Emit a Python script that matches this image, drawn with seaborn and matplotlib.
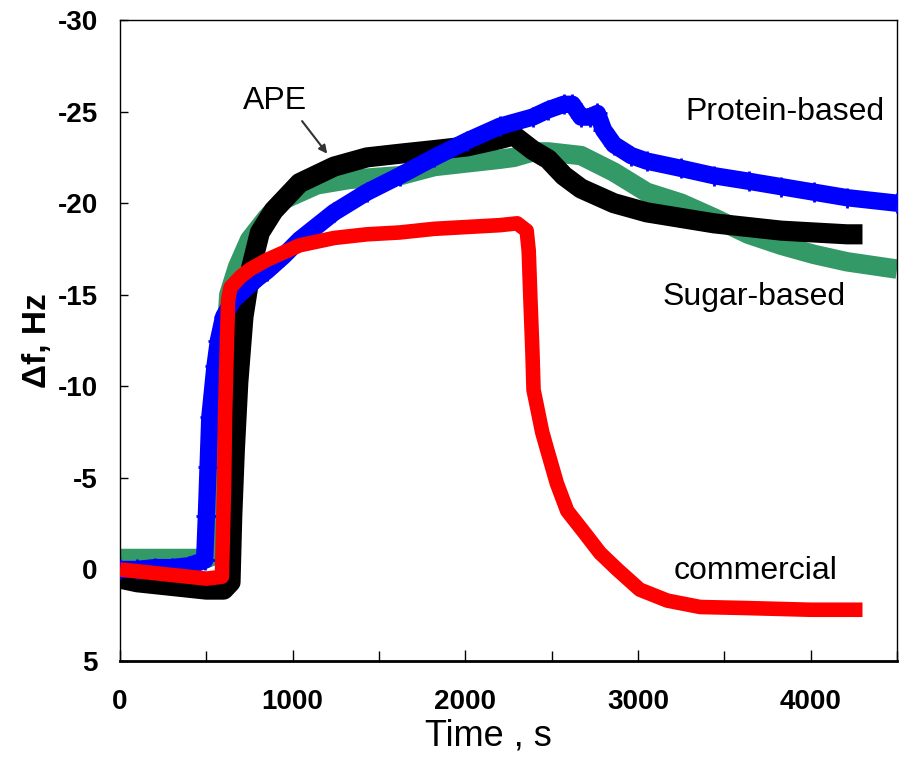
import numpy as np
import pandas as pd
import matplotlib
matplotlib.use("Agg")
import matplotlib.pyplot as plt
from matplotlib.ticker import MultipleLocator
import seaborn as sns

# values (time in s, frequency shift in Hz)
ape_t = [0, 100, 200, 300, 400, 500, 600, 640, 650, 665, 685, 715, 740, 760, 810, 890,
         1040, 1240, 1430, 1620, 1820, 2010, 2200, 2280, 2390, 2480, 2570, 2670, 2860,
         3050, 3440, 3830, 4210, 4300]
ape_f = [0.5, 0.7, 0.8, 0.9, 1.0, 1.1, 1.1, 0.7, -2.9, -6.5, -10.2, -13.8, -15.3, -16.5,
         -18.4, -19.6, -21.1, -22.0, -22.5, -22.7, -22.9, -23.1, -23.5, -23.7, -22.9,
         -22.4, -21.5, -20.8, -20.0, -19.5, -18.9, -18.5, -18.3, -18.3]

sugar_t = [0, 100, 200, 300, 400, 500, 555, 570, 590, 610, 630, 680, 750, 850, 950, 1140,
           1330, 1620, 1820, 2010, 2200, 2280, 2390, 2480, 2670, 2860, 3050, 3250, 3440,
           3640, 3830, 4020, 4210, 4500]
sugar_f = [-0.6, -0.6, -0.6, -0.6, -0.6, -0.6, -0.8, -4.7, -8.3, -12.0, -15.0, -16.5,
           -18.0, -19.2, -20.2, -21.0, -21.3, -21.5, -22.0, -22.2, -22.4, -22.5, -22.8,
           -22.8, -22.6, -21.7, -20.6, -20.0, -19.2, -18.3, -17.7, -17.2, -16.8, -16.4]

protein_t = [0, 100, 200, 300, 400, 490, 500, 510, 520, 550, 570, 600, 655, 735, 795, 850,
             945, 1040, 1240, 1430, 1620, 1820, 2010, 2200, 2390, 2480, 2570, 2620, 2670,
             2720, 2765, 2800, 2860, 2960, 3050, 3250, 3440, 3640, 3830, 4020, 4210, 4500]
protein_f = [0.0, 0.0, -0.1, -0.1, -0.2, -0.5, -2.9, -5.6, -8.3, -11.1, -12.5, -13.8,
             -14.7, -15.4, -15.9, -16.3, -17.1, -18.0, -19.5, -20.6, -21.5, -22.5, -23.4,
             -24.2, -24.7, -25.1, -25.4, -25.4, -24.7, -24.7, -24.9, -24.0, -23.2, -22.6,
             -22.3, -21.9, -21.5, -21.2, -20.9, -20.6, -20.3, -20.0]

comm_t = [0, 100, 200, 300, 400, 500, 590, 603, 608, 618, 626, 640, 700, 755, 850, 1040,
          1240, 1430, 1620, 1820, 2010, 2200, 2300, 2355, 2367, 2377, 2388, 2395, 2406,
          2445, 2475, 2530, 2590, 2690, 2780, 2880, 3010, 3170, 3360, 3600, 4000, 4300]
comm_f = [0.0, 0.1, 0.2, 0.3, 0.4, 0.5, 0.4, -4.7, -8.3, -12.0, -14.7, -15.4, -16.0,
          -16.4, -16.9, -17.7, -18.1, -18.3, -18.4, -18.6, -18.7, -18.8, -18.9, -18.5,
          -17.4, -14.7, -12.0, -9.8, -9.3, -7.5, -6.5, -4.7, -3.2, -2.0, -0.9, 0.0, 1.1,
          1.7, 2.05, 2.1, 2.2, 2.2]

sns.set_theme(style="white")
plt.rcParams['font.family'] = ['Liberation Sans', 'DejaVu Sans']
plt.rcParams['axes.unicode_minus'] = False
plt.rcParams['text.color'] = 'black'
plt.rcParams['axes.labelcolor'] = 'black'
plt.rcParams['xtick.color'] = 'black'
plt.rcParams['ytick.color'] = 'black'

fig = plt.figure(figsize=(8.99, 7.62), dpi=100)
ax = fig.add_axes([0.1335, 0.1325, 0.8643, 0.8412])

# green, black, blue, red stacking like the original
series = [
    (sugar_t, sugar_f, '#339966', 14, None, 0, 0),
    (ape_t, ape_f, 'black', 14.5, None, 0, 0),
    (protein_t, protein_f, '#0000ff', 12.5, '+', 15, 2.0),
    (comm_t, comm_f, '#ff0000', 10.5, None, 0, 0),
]
for i, (t, f, col, lw, mk, ms, mew) in enumerate(series):
    df = pd.DataFrame({'t': t, 'f': f})
    sns.lineplot(data=df, x='t', y='f', color=col, lw=lw, sort=False, estimator=None,
                 solid_joinstyle='round', solid_capstyle='butt', ax=ax, zorder=2 + i)
    if mk is not None:
        ax.plot(df['t'], df['f'], ls='none', marker=mk, ms=ms, color=col, mew=mew,
                zorder=2 + i)

ax.set_xlim(0, 4500)
ax.set_ylim(5, -30)
ax.xaxis.set_major_locator(MultipleLocator(1000))
ax.xaxis.set_minor_locator(MultipleLocator(500))
ax.yaxis.set_major_locator(MultipleLocator(5))

ax.tick_params(axis='x', which='major', direction='in', length=8, width=1, bottom=True,
               top=False, pad=20, labelsize=20)
ax.tick_params(axis='x', which='minor', direction='in', length=7, width=1, bottom=True,
               top=False)
ax.tick_params(axis='y', direction='in', length=6, width=1, left=True, right=False,
               pad=16, labelsize=20)
for lab in ax.get_xticklabels() + ax.get_yticklabels():
    lab.set_fontweight('bold')

for side in ['left', 'top', 'right']:
    ax.spines[side].set_linewidth(1.0)
    ax.spines[side].set_color('black')
ax.spines['bottom'].set_linewidth(2.0)
ax.spines['bottom'].set_color('black')

ax.set_xlabel('Time , s', fontsize=26)
ax.set_ylabel('Δf, Hz', fontsize=24, fontweight='bold')
ax.xaxis.set_label_coords(0.474, -0.089)
ax.yaxis.set_label_coords(-0.086, 0.50)

ax.annotate('APE', xy=(1200, -22.7), xytext=(900, -25.6), ha='center', va='center',
            fontsize=23,
            arrowprops=dict(arrowstyle='-|>', color='#333333', lw=1.5, mutation_scale=12,
                            relpos=(0.85, 0.0), shrinkA=2, shrinkB=0))
ax.text(3849, -25.0, 'Protein-based', fontsize=23, ha='center', va='center')
ax.text(3670, -14.9, 'Sugar-based', fontsize=23, ha='center', va='center')
ax.text(3678, 0.1, 'commercial', fontsize=23, ha='center', va='center')

fig.savefig('out.png', dpi=100)
